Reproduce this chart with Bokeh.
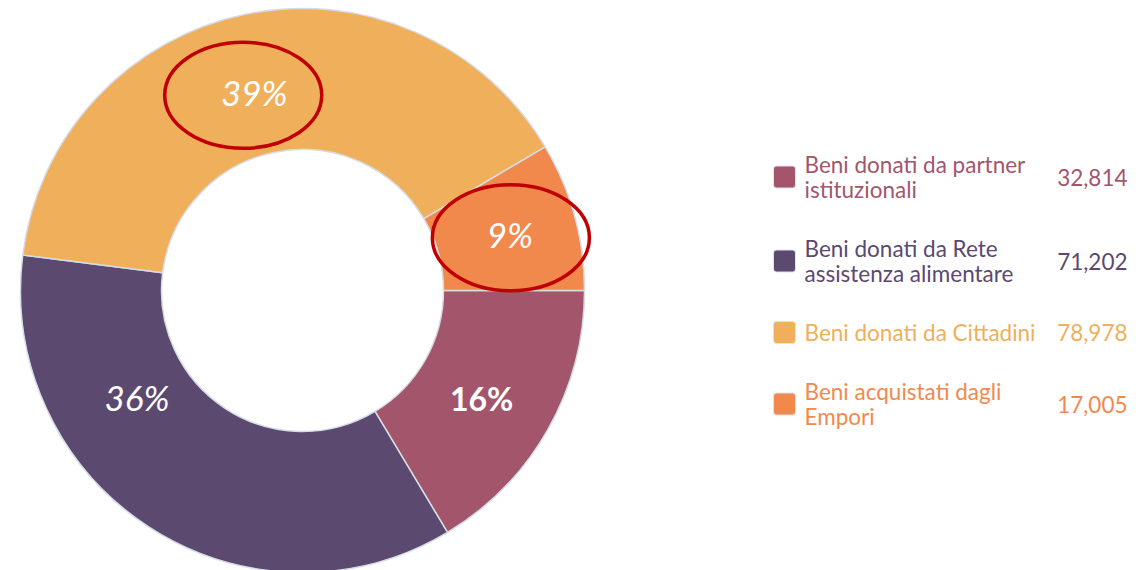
import math
import textwrap
from bokeh.plotting import figure
from bokeh.models import Range1d, ColumnDataSource
from bokeh.embed import file_html
from bokeh.resources import INLINE
from bokeh.core.properties import value

# ---- data ----
categories = [
    "Beni donati da partner istituzionali",
    "Beni donati da Rete assistenza alimentare",
    "Beni donati da Cittadini",
    "Beni acquistati dagli Empori",
]
values = [32814, 71202, 78978, 17005]
colors = ["#A3566B", "#5B4970", "#F0AF5A", "#F2894C"]
highlighted = [False, False, True, True]

# ---- style / layout ----
W, H = 1142, 570
cx, cy = 302, H - 290
R_OUT, R_IN = 282, 141
label_r = [209, 197, 204, 215]
label_nudge_deg = [1.5, 24, -2, 0]      # clockwise nudge of the % label
label_styles = ["bold", "italic", "italic", "italic"]
label_sizes = ["32px", "35px", "35px", "35px"]
ellipse_dx = [0, 0, -11, 1]
ellipse_dy = [0, 0, -3, -4]

p = figure(width=W, height=H, x_range=Range1d(0, W), y_range=Range1d(0, H),
           output_backend="svg", toolbar_location=None, min_border=0,
           x_axis_location=None, y_axis_location=None,
           outline_line_color=None, background_fill_color="white",
           border_fill_color="white")
p.grid.visible = False

total = sum(values)
starts, ends, lx, ly, pct = [], [], [], [], []
cum = 0.0
for i, v in enumerate(values):
    f0 = cum / total
    cum += v
    f1 = cum / total
    starts.append(-2 * math.pi * f1)
    ends.append(-2 * math.pi * f0)
    mid_cw = (f0 + f1) / 2 * 360 + label_nudge_deg[i]
    a = -math.radians(mid_cw)
    lx.append(cx + label_r[i] * math.cos(a))
    ly.append(cy + label_r[i] * math.sin(a))
    pct.append(f"{round(v / total * 100)}%")

src = ColumnDataSource(dict(start=starts, end=ends, color=colors))
p.annular_wedge(x=cx, y=cy, inner_radius=R_IN, outer_radius=R_OUT,
                start_angle="start", end_angle="end", fill_color="color",
                line_color="#D5DCE6", line_width=1.5, source=src)

for i in range(len(values)):
    p.text(x=[lx[i]], y=[ly[i]], text=[pct[i]], text_font=value("Lato"),
           text_font_size=label_sizes[i], text_font_style=label_styles[i],
           text_color="white", text_align="center", text_baseline="middle")

ex = [lx[i] + ellipse_dx[i] for i in range(len(values)) if highlighted[i]]
ey = [ly[i] + ellipse_dy[i] for i in range(len(values)) if highlighted[i]]
p.ellipse(x=ex, y=ey, width=157, height=106, fill_alpha=0,
          line_color="#C00000", line_width=3.5)

# ---- legend ----
LINE_H, GAP = 25, 34
wrapped = [textwrap.wrap(c, 24) for c in categories]
heights = [len(w) * LINE_H for w in wrapped]
total_h = sum(heights) + GAP * (len(heights) - 1)
top = 290 - total_h / 2
leg_y = []
for h in heights:
    leg_y.append(H - (top + h / 2))
    top += h + GAP

p.rect(x=[784] * len(values), y=leg_y, width=22, height=22,
       fill_color=colors, line_color="#DCE3EC", line_width=1, border_radius=3)
p.text(x=[804] * len(values), y=leg_y, text=["\n".join(w) for w in wrapped],
       text_font=value("Lato"), text_font_size="22.5px", text_color=colors,
       text_align="left", text_baseline="middle", text_line_height=0.95)
p.text(x=[1127] * len(values), y=leg_y, text=[f"{v:,}" for v in values],
       text_font=value("Lato"), text_font_size="22.5px", text_color=colors,
       text_align="right", text_baseline="middle")

open("out.html", "w").write(file_html(p, INLINE))
